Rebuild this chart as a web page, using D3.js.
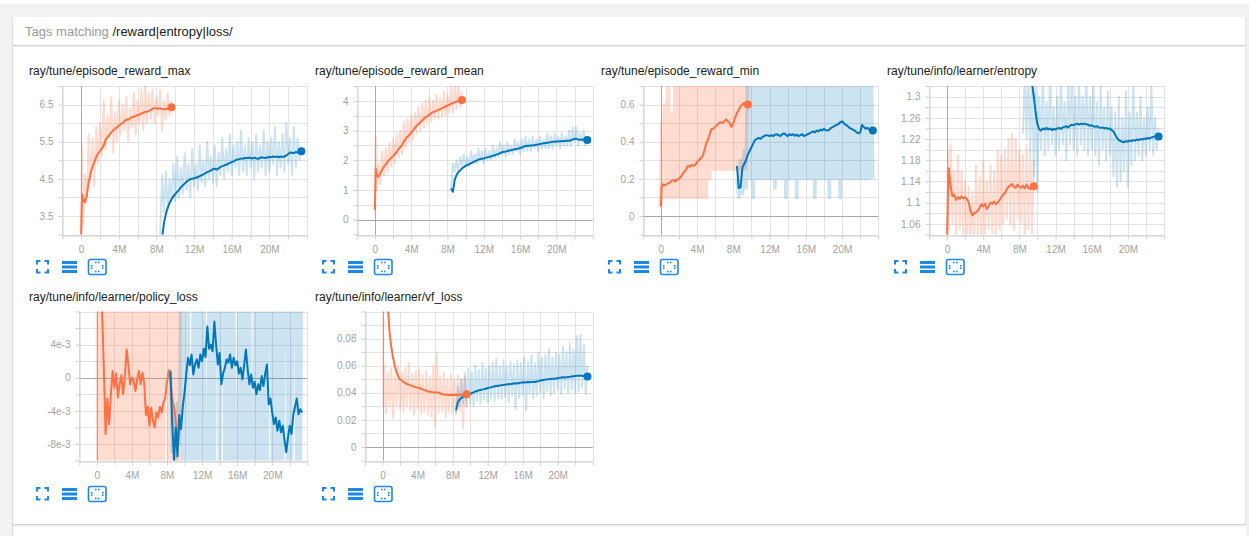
<!DOCTYPE html>
<html>
<head>
<meta charset="utf-8">
<script src="https://cdn.jsdelivr.net/npm/d3@7"></script>
<style>
  html, body { margin: 0; padding: 0; background: #f2f2f2; }
  svg { display: block; font-family: "Liberation Sans", Arial, Helvetica, sans-serif; }
</style>
</head>
<body>
<svg id="board" width="1249" height="536"></svg>
<script>
// ---- training steps (millions of env steps) for the two runs ----
const orangeSteps = [0, 0.1, 0.2, 0.4, 0.6, 0.8,
  1, 1.2, 1.4, 1.6, 1.8,  2, 2.2, 2.4, 2.6, 2.8,  3, 3.2, 3.4, 3.6, 3.8,
  4, 4.2, 4.4, 4.6, 4.8,  5, 5.2, 5.4, 5.6, 5.8,  6, 6.2, 6.4, 6.6, 6.8,
  7, 7.2, 7.4, 7.6, 7.8,  8, 8.2, 8.4, 8.6, 8.8,  9, 9.2, 9.4, 9.6];
const blueSteps = [8.4, 8.6, 8.8,
  9, 9.2, 9.4, 9.6, 9.8,  10, 10.2, 10.4, 10.6, 10.8,  11, 11.2, 11.4, 11.6, 11.8,
  12, 12.2, 12.4, 12.6, 12.8,  13, 13.2, 13.4, 13.6, 13.8,  14, 14.2, 14.4, 14.6, 14.8,
  15, 15.2, 15.4, 15.6, 15.8,  16, 16.2, 16.4, 16.6, 16.8,  17, 17.2, 17.4, 17.6, 17.8,
  18, 18.2, 18.4, 18.6, 18.8,  19, 19.2, 19.4, 19.6, 19.8,  20, 20.2, 20.4, 20.6, 20.8,
  21, 21.2, 21.4, 21.6, 21.8,  22, 22.2, 22.4, 22.6, 22.8,  23, 23.2, 23.4];

// ---- ray/tune/episode_reward_max ----
const maxOrangeRaw = [3.0, 5.4, 3.2, 4.6, 3.9, 5.7,
  4.4, 5.6, 4.3, 5.9, 4.9,  6.0, 5.1, 6.6, 5.3, 6.2,  5.6, 6.7, 5.2, 6.3, 5.5,
  6.6, 5.7, 6.5, 5.8, 6.7,  5.5, 6.4, 5.9, 6.8, 5.7,  6.6, 6.0, 6.9, 5.8, 7.1,
  6.0, 6.8, 6.1, 6.9, 6.0,  6.7, 6.2, 6.9, 5.8, 6.6,  6.1, 6.8, 6.2, 6.6];
const maxOrangeSmooth = [3.0, 4.08, 3.95, 3.86, 4.05, 4.4,
  4.65, 4.82, 4.95, 5.08, 5.18,  5.25, 5.32, 5.4, 5.55, 5.62,  5.68, 5.75, 5.8, 5.85, 5.88,
  5.93, 5.97, 6.0, 6.05, 6.1,  6.09, 6.13, 6.16, 6.17, 6.2,  6.21, 6.23, 6.26, 6.28, 6.3,
  6.31, 6.33, 6.35, 6.39, 6.4,  6.4, 6.39, 6.4, 6.38, 6.37,  6.39, 6.38, 6.42, 6.43];
const maxBlueRaw = [2.9, 4.6, 3.6,
  4.7, 3.7, 4.5, 3.9, 4.9,  3.9, 5.1, 4.0, 4.8, 4.1,  5.2, 4.2, 4.9, 4.0, 5.3,
  4.3, 4.9, 4.2, 5.4, 4.4,  5.0, 4.3, 5.5, 4.5, 5.1,  4.4, 5.4, 4.3, 5.2, 4.6,
  5.6, 4.5, 5.3, 4.7, 5.7,  4.6, 5.4, 4.8, 5.5, 4.6,  5.8, 4.7, 5.4, 4.6, 5.6,
  4.8, 5.5, 4.5, 5.7, 4.7,  5.4, 4.8, 5.8, 4.6, 5.5,  4.7, 5.6, 4.9, 5.9, 4.6,
  5.5, 4.8, 5.7, 4.7, 6.0,  4.9, 5.6, 4.6, 5.9, 4.8,  5.6, 5.0, 5.3];
const maxBlueSmooth = [2.3, 2.9, 3.3,
  3.55, 3.72, 3.85, 3.95, 4.03,  4.09, 4.15, 4.2, 4.27, 4.32,  4.37, 4.42, 4.46, 4.49, 4.5,
  4.52, 4.53, 4.55, 4.57, 4.6,  4.62, 4.65, 4.68, 4.7, 4.73,  4.76, 4.77, 4.75, 4.78, 4.82,
  4.84, 4.86, 4.88, 4.9, 4.93,  4.95, 4.97, 5.0, 5.02, 5.03,  5.05, 5.04, 5.06, 5.06, 5.07,
  5.06, 5.05, 5.07, 5.05, 5.04,  5.06, 5.08, 5.07, 5.06, 5.08,  5.09, 5.08, 5.1, 5.09, 5.1,
  5.08, 5.1, 5.09, 5.1, 5.13,  5.17, 5.21, 5.2, 5.19, 5.22,  5.21, 5.23, 5.24];

// ---- ray/tune/episode_reward_mean ----
const meanOrangeRaw = [0.3, 2.8, 1.0, 1.9, 1.2, 2.3,
  1.5, 2.4, 1.6, 2.6, 1.8,  2.7, 1.9, 2.9, 2.1, 3.0,  2.2, 3.3, 2.4, 3.4, 2.6,
  3.5, 2.7, 3.6, 2.9, 3.8,  3.0, 3.9, 3.1, 4.0, 3.2,  4.1, 3.3, 4.0, 3.4, 4.2,
  3.4, 4.1, 3.5, 4.3, 3.5,  4.2, 3.6, 4.5, 3.6, 4.6,  3.7, 4.6, 3.8, 4.3];
const meanOrangeSmooth = [0.33, 1.72, 1.5, 1.44, 1.55, 1.68,
  1.78, 1.86, 1.95, 2.02, 2.08,  2.14, 2.2, 2.28, 2.38, 2.44,  2.52, 2.62, 2.72, 2.8, 2.85,
  2.93, 3.0, 3.08, 3.16, 3.22,  3.28, 3.33, 3.4, 3.46, 3.48,  3.53, 3.58, 3.62, 3.64, 3.67,
  3.7, 3.72, 3.75, 3.78, 3.81,  3.84, 3.87, 3.9, 3.92, 3.95,  3.98, 4.0, 4.02, 4.03];
const meanBlueRaw = [1.0, 1.9, 1.6,
  2.0, 1.6, 2.1, 1.8, 2.2,  1.8, 2.1, 1.8, 2.3, 1.9,  2.2, 1.9, 2.4, 2.0, 2.3,
  1.9, 2.4, 2.0, 2.3, 2.0,  2.5, 2.1, 2.4, 2.1, 2.6,  2.2, 2.5, 2.1, 2.6, 2.2,
  2.5, 2.2, 2.7, 2.3, 2.6,  2.2, 2.7, 2.3, 2.8, 2.3,  2.7, 2.3, 2.8, 2.4, 2.7,
  2.3, 2.8, 2.4, 2.7, 2.4,  2.9, 2.4, 2.8, 2.4, 2.9,  2.5, 2.8, 2.4, 2.9, 2.5,
  2.8, 2.5, 3.0, 2.5, 3.1,  2.6, 3.1, 2.5, 2.9, 2.6,  3.0, 2.5, 2.8];
const meanBlueSmooth = [1.05, 0.94, 1.35,
  1.5, 1.6, 1.66, 1.72, 1.77,  1.81, 1.84, 1.87, 1.9, 1.93,  1.96, 1.99, 2.02, 2.04, 2.05,
  2.06, 2.08, 2.1, 2.11, 2.13,  2.15, 2.17, 2.19, 2.21, 2.24,  2.27, 2.28, 2.29, 2.31, 2.33,
  2.34, 2.35, 2.37, 2.38, 2.39,  2.41, 2.43, 2.46, 2.48, 2.49,  2.49, 2.5, 2.5, 2.51, 2.52,
  2.53, 2.55, 2.56, 2.57, 2.58,  2.59, 2.6, 2.61, 2.62, 2.62,  2.63, 2.63, 2.64, 2.64, 2.65,
  2.65, 2.66, 2.66, 2.67, 2.7,  2.72, 2.72, 2.7, 2.69, 2.7,  2.69, 2.68, 2.68];

// ---- ray/tune/episode_reward_min ----
const minOrangeRaw = [0.05, 0.5, 0.1, 0.6, 0.1, 0.9,
  0.1, 0.55, 0.1, 0.9, 0.1,  0.9, 0.1, 0.9, 0.1, 0.9,  0.1, 0.9, 0.1, 0.9, 0.1,
  0.9, 0.1, 0.9, 0.1, 0.9,  0.1, 0.9, 0.2, 0.9, 0.25,  0.9, 0.25, 0.9, 0.25, 0.9,
  0.25, 0.9, 0.25, 0.9, 0.25,  0.9, 0.25, 0.9, 0.25, 0.9,  0.25, 0.9, 0.25, 0.9];
const minOrangeSmooth = [0.05, 0.166, 0.17, 0.165, 0.17, 0.175,
  0.18, 0.19, 0.193, 0.185, 0.195,  0.2, 0.21, 0.225, 0.24, 0.25,  0.27, 0.265, 0.275, 0.27, 0.275,
  0.29, 0.3, 0.31, 0.32, 0.35,  0.39, 0.41, 0.44, 0.47, 0.47,  0.48, 0.49, 0.5, 0.505, 0.5,
  0.51, 0.52, 0.51, 0.5, 0.48,  0.5, 0.53, 0.555, 0.57, 0.59,  0.6, 0.61, 0.6, 0.6];
const minBlueRaw = [0.2, 0.1, 0.3,
  0.12, 0.35, 0.15, 0.9, 0.2,  0.9, 0.1, 0.9, 0.2, 0.9,  0.2, 0.9, 0.2, 0.9, 0.2,
  0.9, 0.2, 0.9, 0.15, 0.9,  0.2, 0.9, 0.2, 0.9, 0.1,  0.9, 0.2, 0.9, 0.2, 0.9,
  0.1, 0.9, 0.2, 0.9, 0.2,  0.9, 0.2, 0.9, 0.2, 0.9,  0.1, 0.9, 0.2, 0.9, 0.2,
  0.9, 0.2, 0.9, 0.1, 0.9,  0.2, 0.9, 0.2, 0.9, 0.1,  0.9, 0.2, 0.9, 0.2, 0.9,
  0.2, 0.9, 0.2, 0.9, 0.2,  0.9, 0.2, 0.9, 0.2, 0.9,  0.2, 0.9, 0.2];
const minBlueSmooth = [0.27, 0.15, 0.155,
  0.26, 0.28, 0.3, 0.33, 0.35,  0.37, 0.39, 0.41, 0.415, 0.42,  0.415, 0.425, 0.43, 0.435, 0.434,
  0.43, 0.435, 0.43, 0.438, 0.44,  0.435, 0.43, 0.44, 0.445, 0.438,  0.43, 0.44, 0.435, 0.44, 0.432,
  0.438, 0.43, 0.435, 0.44, 0.43,  0.435, 0.44, 0.445, 0.45, 0.455,  0.45, 0.46, 0.455, 0.465, 0.46,
  0.47, 0.462, 0.46, 0.465, 0.475,  0.48, 0.485, 0.49, 0.495, 0.505,  0.51, 0.5, 0.49, 0.485, 0.475,
  0.47, 0.465, 0.46, 0.45, 0.445,  0.45, 0.49, 0.48, 0.47, 0.475,  0.465, 0.462, 0.46];

// ---- ray/tune/info/learner/entropy ----
const entOrangeRaw = [1.0, 1.2, 1.05, 1.21, 1.06, 1.16,
  1.03, 1.19, 1.05, 1.16, 1.04,  1.14, 1.03, 1.13, 1.02, 1.12,  1.03, 1.17, 1.04, 1.15, 1.03,
  1.18, 1.04, 1.14, 1.05, 1.17,  1.04, 1.16, 1.03, 1.2, 1.05,  1.19, 1.06, 1.2, 1.07, 1.22,
  1.06, 1.23, 1.05, 1.22, 1.07,  1.2, 1.06, 1.19, 1.03, 1.21,  1.05, 1.2, 1.04, 1.18];
const entOrangeSmooth = [1.03, 1.12, 1.165, 1.13, 1.112, 1.115,
  1.105, 1.11, 1.107, 1.112, 1.108,  1.11, 1.107, 1.1, 1.085, 1.076,  1.08, 1.082, 1.085, 1.09, 1.097,
  1.093, 1.098, 1.088, 1.093, 1.1,  1.098, 1.102, 1.097, 1.1, 1.105,  1.11, 1.115, 1.118, 1.125, 1.13,
  1.133, 1.135, 1.13, 1.128, 1.134,  1.13, 1.128, 1.132, 1.127, 1.134,  1.128, 1.126, 1.13, 1.131];
const entBlueRaw = [1.23, 1.35, 1.22,
  1.35, 1.2, 1.34, 1.15, 1.33,  1.12, 1.3, 1.2, 1.34, 1.19,  1.29, 1.2, 1.35, 1.21, 1.28,
  1.19, 1.3, 1.2, 1.34, 1.21,  1.29, 1.18, 1.33, 1.21, 1.35,  1.2, 1.3, 1.19, 1.34, 1.21,
  1.3, 1.2, 1.35, 1.19, 1.3,  1.2, 1.33, 1.19, 1.29, 1.17,  1.32, 1.2, 1.28, 1.18, 1.31,
  1.19, 1.28, 1.15, 1.27, 1.13,  1.3, 1.14, 1.26, 1.16, 1.31,  1.13, 1.27, 1.17, 1.33, 1.18,
  1.27, 1.19, 1.3, 1.18, 1.26,  1.19, 1.28, 1.2, 1.32, 1.19,  1.26, 1.2, 1.24];
const entBlueSmooth = [1.5, 1.46, 1.42,
  1.39, 1.36, 1.325, 1.3, 1.27,  1.248, 1.238, 1.236, 1.24, 1.238,  1.241, 1.238, 1.24, 1.237, 1.239,
  1.238, 1.24, 1.241, 1.239, 1.242,  1.243, 1.244, 1.242, 1.245, 1.247,  1.246, 1.248, 1.249, 1.247, 1.249,
  1.248, 1.249, 1.248, 1.247, 1.245,  1.246, 1.244, 1.243, 1.244, 1.242,  1.241, 1.242, 1.24, 1.241, 1.239,
  1.24, 1.237, 1.235, 1.228, 1.222,  1.218, 1.216, 1.215, 1.214, 1.216,  1.215, 1.217, 1.216, 1.218, 1.217,
  1.219, 1.218, 1.22, 1.219, 1.221,  1.22, 1.222, 1.221, 1.223, 1.224,  1.225, 1.225, 1.225];

// ---- ray/tune/info/learner/policy_loss ----
const polOrangeRaw = [0.03, -0.02, 0.021, -0.019, 0.02, -0.022,
  0.019, -0.02, 0.022, -0.018, 0.02,  -0.021, 0.018, -0.02, 0.023, -0.019,  0.02, -0.022, 0.019, -0.02, 0.021,
  -0.018, 0.02, -0.021, 0.022, -0.02,  0.019, -0.02, 0.021, -0.019, 0.02,  -0.022, 0.018, -0.02, 0.021, -0.019,
  0.02, -0.021, 0.019, -0.02, 0.022,  0.02, -0.019, 0.021, -0.02, 0.018,  -0.021, 0.02, -0.019, 0.02];
const polOrangeSmooth = [0.03, 0.025, 0.02, 0.012, 0.008, 0.001,
  -0.0068, -0.0025, -0.0056, -0.002, 0.0008,  -0.0012, 0.0005, -0.0024, -0.0008, 0.0003,  -0.002, 0.0002, 0.0034, 0.0015, -0.0008,
  0.0, -0.0004, -0.0016, -0.0002, 0.0008,  -0.0008, 0.0006, -0.0006, -0.0045, -0.0035,  -0.0058, -0.0036, -0.0052, -0.006, -0.0042,
  -0.0048, -0.0035, -0.0042, -0.003, -0.0024,  -0.0005, 0.0009, -0.0004, -0.0026, -0.0035,  -0.0052, -0.0076, -0.0064, -0.0058];
const polBlueRaw = [0.001, -0.009, -0.004,
  -0.012, -0.003, -0.008, 0.02, -0.02,  0.021, -0.019, 0.02, -0.021, -0.02,  0.02, -0.019, 0.022, -0.02, 0.019,
  -0.021, 0.02, -0.019, -0.02, 0.021,  -0.02, 0.019, -0.022, 0.02, 0.021,  -0.019, 0.02, 0.022, -0.02, 0.019,
  -0.021, 0.02, -0.019, 0.021, -0.02,  -0.022, 0.02, -0.019, 0.021, -0.02,  0.019, -0.021, 0.02, -0.019, -0.02,
  0.021, -0.02, 0.019, -0.021, 0.02,  -0.019, 0.022, -0.02, 0.02, 0.021,  -0.02, 0.019, -0.021, 0.02, -0.019,
  0.021, -0.02, 0.019, 0.02, -0.021,  0.02, -0.019, 0.021, 0.02, -0.02,  0.019, -0.021, 0.02];
const polBlueSmooth = [0.0008, -0.0055, -0.01,
  -0.006, -0.0095, -0.0045, -0.0062, -0.0035,  -0.0018, 0.0005, 0.0024, 0.0015, 0.0028,  0.0004, 0.0016, 0.0022, 0.0012, 0.0028,
  0.002, 0.0035, 0.0025, 0.0062, 0.0035,  0.004, 0.0032, 0.0068, 0.004, 0.0016,  0.003, -0.0008, 0.0005, 0.0012, 0.0022,
  0.0018, 0.0028, 0.0012, 0.0024, 0.0015,  0.002, 0.0005, 0.0012, -0.0002, 0.0015,  0.0034, 0.001, -0.0008, 0.0004, -0.0012,
  -0.0005, -0.002, -0.0008, -0.0015, 0.0002,  -0.001, 0.0005, 0.0016, -0.0032, -0.0025,  -0.0042, -0.0056, -0.0048, -0.0064, -0.0052,
  -0.0066, -0.0058, -0.0075, -0.009, -0.0072,  -0.0058, -0.0068, -0.0045, -0.0035, -0.0025,  -0.0044, -0.0038, -0.0042];

// ---- ray/tune/info/learner/vf_loss ----
const vfOrangeRaw = [0.35, 0.03, 0.06, 0.025, 0.055, 0.03,
  0.058, 0.021, 0.052, 0.03, 0.06,  0.028, 0.055, 0.026, 0.058, 0.03,  0.062, 0.027, 0.054, 0.024, 0.056,
  0.029, 0.057, 0.025, 0.053, 0.026,  0.056, 0.024, 0.052, 0.022, 0.06,  0.015, 0.07, 0.025, 0.052, 0.027,
  0.055, 0.022, 0.05, 0.026, 0.054,  0.025, 0.05, 0.024, 0.053, 0.027,  0.05, 0.014, 0.052, 0.03];
const vfOrangeSmooth = [0.3, 0.25, 0.2, 0.14, 0.105, 0.085,
  0.074, 0.066, 0.06, 0.055, 0.052,  0.05, 0.049, 0.048, 0.047, 0.0465,  0.046, 0.0455, 0.045, 0.0445, 0.044,
  0.0438, 0.0435, 0.043, 0.0425, 0.042,  0.0415, 0.041, 0.0408, 0.0405, 0.0403,  0.0402, 0.0403, 0.04, 0.0395, 0.039,
  0.0388, 0.0386, 0.0385, 0.0384, 0.0385,  0.0384, 0.0383, 0.0385, 0.0384, 0.0386,  0.0385, 0.0387, 0.039, 0.039];
const vfBlueRaw = [0.025, 0.045, 0.03,
  0.05, 0.032, 0.055, 0.03, 0.058,  0.032, 0.055, 0.03, 0.06, 0.034,  0.057, 0.032, 0.062, 0.035, 0.058,
  0.033, 0.06, 0.036, 0.062, 0.034,  0.065, 0.036, 0.06, 0.035, 0.064,  0.037, 0.06, 0.033, 0.063, 0.038,
  0.061, 0.028, 0.064, 0.036, 0.062,  0.038, 0.066, 0.027, 0.063, 0.039,  0.068, 0.036, 0.062, 0.038, 0.07,
  0.04, 0.066, 0.036, 0.068, 0.041,  0.072, 0.038, 0.066, 0.04, 0.07,  0.042, 0.068, 0.039, 0.074, 0.043,
  0.07, 0.04, 0.076, 0.042, 0.072,  0.04, 0.082, 0.041, 0.083, 0.044,  0.075, 0.039, 0.06];
const vfBlueSmooth = [0.027, 0.033, 0.035,
  0.0362, 0.037, 0.0375, 0.0378, 0.0385,  0.039, 0.0398, 0.0403, 0.041, 0.0413,  0.0418, 0.042, 0.0425, 0.0427, 0.043,
  0.0435, 0.0438, 0.044, 0.0445, 0.0448,  0.0452, 0.045, 0.0455, 0.0456, 0.0458,  0.046, 0.0462, 0.0464, 0.0463, 0.0466,
  0.0468, 0.047, 0.0468, 0.0472, 0.0475,  0.0477, 0.0476, 0.0478, 0.048, 0.0478,  0.048, 0.0482, 0.048, 0.0483, 0.0486,
  0.049, 0.0492, 0.0495, 0.0497, 0.0499,  0.05, 0.0502, 0.0504, 0.0503, 0.0506,  0.0508, 0.051, 0.0512, 0.0514, 0.0513,
  0.0515, 0.0517, 0.0518, 0.052, 0.0522,  0.0524, 0.0526, 0.0525, 0.0527, 0.0526,  0.0523, 0.0522, 0.052];

// ---- axis labels ----
const xTickValues = [0, 4, 8, 12, 16, 20];
const xTickLabels = ["0", "4M", "8M", "12M", "16M", "20M"];
const maxYTicks = [3.5, 4.5, 5.5, 6.5];
const maxYLabels = ["3.5", "4.5", "5.5", "6.5"];
const meanYTicks = [0, 1, 2, 3, 4];
const meanYLabels = ["0", "1", "2", "3", "4"];
const minYTicks = [0, 0.2, 0.4, 0.6];
const minYLabels = ["0", "0.2", "0.4", "0.6"];
const entYTicks = [1.06, 1.1, 1.14, 1.18, 1.22, 1.26, 1.3];
const entYLabels = ["1.06", "1.1", "1.14", "1.18", "1.22", "1.26", "1.3"];
const polYTicks = [0.004, 0, -0.004, -0.008];
const polYLabels = ["4e-3", "0", "-4e-3", "-8e-3"];
const vfYTicks = [0, 0.02, 0.04, 0.06, 0.08];
const vfYLabels = ["0", "0.02", "0.04", "0.06", "0.08"];

const RUN_COLORS = { orange: "#ff7043", blue: "#0077bb" };
const ICON_BLUE = "#1e88e5";

// panel layout
const rows = [
  { top: 86, bottom: 234.5, title: 75, icons: 260 },
  { top: 311.5, bottom: 460.5, title: 300.5, icons: 487 }
];
const panels = [
  { title: "ray/tune/episode_reward_max", tx: 29, row: 0, x0: 62.3, x1: 307, yDomain: [3, 7], yCount: 8,
    yTicks: maxYTicks, yLabels: maxYLabels, dots: true, rawWidth: 2,
    runs: [[orangeSteps, maxOrangeRaw, maxOrangeSmooth, "orange"], [blueSteps, maxBlueRaw, maxBlueSmooth, "blue"]] },
  { title: "ray/tune/episode_reward_mean", tx: 315, row: 0, x0: 356.7, x1: 592.7, yDomain: [-0.5, 4.5], yCount: 10,
    yTicks: meanYTicks, yLabels: meanYLabels, dots: true, rawWidth: 2,
    runs: [[orangeSteps, meanOrangeRaw, meanOrangeSmooth, "orange"], [blueSteps, meanBlueRaw, meanBlueSmooth, "blue"]] },
  { title: "ray/tune/episode_reward_min", tx: 601, row: 0, x0: 642.7, x1: 878.3, yDomain: [-0.1, 0.7], yCount: 8,
    yTicks: minYTicks, yLabels: minYLabels, dots: true, rawWidth: 3.6,
    runs: [[orangeSteps, minOrangeRaw, minOrangeSmooth, "orange"], [blueSteps, minBlueRaw, minBlueSmooth, "blue"]] },
  { title: "ray/tune/info/learner/entropy", tx: 887, row: 0, x0: 929, x1: 1164, yDomain: [1.04, 1.32], yCount: 14,
    yTicks: entYTicks, yLabels: entYLabels, dots: true, rawWidth: 2,
    runs: [[orangeSteps, entOrangeRaw, entOrangeSmooth, "orange"], [blueSteps, entBlueRaw, entBlueSmooth, "blue"]] },
  { title: "ray/tune/info/learner/policy_loss", tx: 29, row: 1, x0: 79.3, x1: 307.3, yDomain: [-0.01, 0.008], yCount: 9,
    yTicks: polYTicks, yLabels: polYLabels, dots: false, rawWidth: 3,
    runs: [[orangeSteps, polOrangeRaw, polOrangeSmooth, "orange"], [blueSteps, polBlueRaw, polBlueSmooth, "blue"]] },
  { title: "ray/tune/info/learner/vf_loss", tx: 315, row: 1, x0: 365, x1: 592.7, yDomain: [-0.01, 0.1], yCount: 11,
    yTicks: vfYTicks, yLabels: vfYLabels, dots: true, rawWidth: 2,
    runs: [[orangeSteps, vfOrangeRaw, vfOrangeSmooth, "orange"], [blueSteps, vfBlueRaw, vfBlueSmooth, "blue"]] }
];

const svg = d3.select("#board");

// ---- page chrome ----
svg.append("rect").attr("x", 0).attr("y", 0).attr("width", 1249).attr("height", 4).attr("fill", "#ffffff");
svg.append("rect").attr("x", 12).attr("y", 17).attr("width", 1234).attr("height", 507).attr("fill", "#ffffff");
svg.append("line").attr("x1", 12.5).attr("x2", 12.5).attr("y1", 17).attr("y2", 536).attr("stroke", "#dcdcdc");
svg.append("line").attr("x1", 1245.5).attr("x2", 1245.5).attr("y1", 17).attr("y2", 524).attr("stroke", "#e4e4e4");
svg.append("line").attr("x1", 12).attr("x2", 1246).attr("y1", 45.5).attr("y2", 45.5).attr("stroke", "#d4d4d4");
svg.append("line").attr("x1", 12).attr("x2", 1246).attr("y1", 46.5).attr("y2", 46.5).attr("stroke", "#ececec");
svg.append("line").attr("x1", 12).attr("x2", 1246).attr("y1", 524.5).attr("y2", 524.5).attr("stroke", "#d4d4d4");
svg.append("rect").attr("x", 13).attr("y", 527).attr("width", 1233).attr("height", 9).attr("fill", "#ffffff");

const header = svg.append("text").attr("x", 25).attr("y", 36).attr("font-size", 13);
header.append("tspan").attr("fill", "#9a9a9a").text("Tags matching ");
header.append("tspan").attr("fill", "#212121").text("/reward|entropy|loss/");

const xGrid = d3.range(-2, 25, 2);

function drawIcons(g, x, y) {
  // fit-to-screen corners
  g.append("path")
    .attr("d", `M${x + 8},${y + 4.5}V${y + 1}H${x + 11.5} M${x + 15.5},${y + 1}H${x + 19}V${y + 4.5} ` +
               `M${x + 19},${y + 9}V${y + 12.5}H${x + 15.5} M${x + 11.5},${y + 12.5}H${x + 8}V${y + 9}`)
    .attr("fill", "none").attr("stroke", ICON_BLUE).attr("stroke-width", 2);
  // data table toggle
  [1, 5.5, 10].forEach(dy => {
    g.append("rect").attr("x", x + 33).attr("y", y + dy).attr("width", 15).attr("height", 3)
      .attr("fill", ICON_BLUE);
  });
  // domain reset
  g.append("rect").attr("x", x + 59.5).attr("y", y - 0.5).attr("width", 17.5).attr("height", 15).attr("rx", 2)
    .attr("fill", "#ffffff").attr("stroke", ICON_BLUE).attr("stroke-width", 1.6);
  const cx = x + 68.25, cy = y + 7;
  [[-1.5, -4.5], [1.5, -4.5], [-1.5, 4.5], [1.5, 4.5], [-5.5, -1.2], [-5.5, 1.2], [5.5, -1.2], [5.5, 1.2]]
    .forEach(([dx, dy]) => {
      g.append("rect").attr("x", cx + dx - 0.8).attr("y", cy + dy - 0.8).attr("width", 1.6).attr("height", 1.6)
        .attr("fill", ICON_BLUE);
    });
}

panels.forEach((p, pi) => {
  const r = rows[p.row];
  const g = svg.append("g");
  const x = d3.scaleLinear().domain([-2, 24]).range([p.x0, p.x1]);
  const y = d3.scaleLinear().domain(p.yDomain).range([r.bottom, r.top]);
  const yGrid = y.ticks(p.yCount);

  g.append("text").attr("x", p.tx).attr("y", r.title).attr("font-size", 12).attr("fill", "#212121").text(p.title);

  // grid
  g.append("g").selectAll("line").data(yGrid).join("line")
    .attr("x1", p.x0).attr("x2", p.x1)
    .attr("y1", d => Math.round(y(d)) + 0.5).attr("y2", d => Math.round(y(d)) + 0.5)
    .attr("stroke", "#e2e2e2");
  g.append("g").selectAll("line").data(xGrid).join("line")
    .attr("x1", d => Math.round(x(d)) + 0.5).attr("x2", d => Math.round(x(d)) + 0.5)
    .attr("y1", r.top).attr("y2", r.bottom)
    .attr("stroke", "#e2e2e2");

  // zero lines
  if (p.yDomain[0] < 0 && p.yDomain[1] > 0) {
    g.append("line").attr("x1", p.x0).attr("x2", p.x1)
      .attr("y1", Math.round(y(0)) + 0.5).attr("y2", Math.round(y(0)) + 0.5)
      .attr("stroke", "#a8a8a8");
  }
  g.append("line").attr("x1", Math.round(x(0)) + 0.5).attr("x2", Math.round(x(0)) + 0.5)
    .attr("y1", r.top).attr("y2", r.bottom).attr("stroke", "#a8a8a8");

  // axes
  const labelFor = (vals, labels) => v => {
    const i = vals.findIndex(t => Math.abs(t - v) < 1e-9);
    return i >= 0 ? labels[i] : "";
  };
  const xAxis = g.append("g").attr("transform", `translate(0,${Math.round(r.bottom) + 0.5})`)
    .call(d3.axisBottom(x).tickValues(xGrid).tickSize(4).tickSizeOuter(0).tickPadding(6)
      .tickFormat(labelFor(xTickValues, xTickLabels)));
  const yAxis = g.append("g").attr("transform", `translate(${Math.round(p.x0) + 0.5},0)`)
    .call(d3.axisLeft(y).tickValues(yGrid).tickSize(4).tickSizeOuter(0).tickPadding(5)
      .tickFormat(labelFor(p.yTicks, p.yLabels)));
  [xAxis, yAxis].forEach(a => {
    a.select(".domain").attr("stroke", "#cfcfcf");
    a.selectAll(".tick line").attr("stroke", "#cfcfcf");
    a.selectAll(".tick text").attr("fill", "#a3a3a3").attr("font-size", 10)
      .attr("font-family", "\"Liberation Sans\", Arial, sans-serif");
  });

  // data
  const clipId = "clip" + pi;
  svg.append("clipPath").attr("id", clipId).append("rect")
    .attr("x", p.x0).attr("y", r.top).attr("width", p.x1 - p.x0).attr("height", r.bottom - r.top);
  const plot = g.append("g").attr("clip-path", `url(#${clipId})`);

  // raw values, faint
  p.runs.forEach(([steps, raw, smooth, key]) => {
    const line = d3.line().x((d, i) => x(steps[i])).y(d => y(d));
    plot.append("path").datum(raw).attr("d", line)
      .attr("fill", "none").attr("stroke", RUN_COLORS[key])
      .attr("stroke-opacity", key === "orange" ? 0.25 : 0.2).attr("stroke-width", p.rawWidth)
      .attr("stroke-linejoin", "round");
  });
  // smoothed values
  p.runs.forEach(([steps, raw, smooth, key]) => {
    const line = d3.line().x((d, i) => x(steps[i])).y(d => y(d));
    plot.append("path").datum(smooth).attr("d", line)
      .attr("fill", "none").attr("stroke", RUN_COLORS[key]).attr("stroke-width", 2)
      .attr("stroke-linejoin", "round");
  });
  if (p.dots) {
    p.runs.forEach(([steps, raw, smooth, key]) => {
      const last = smooth.length - 1;
      plot.append("circle").attr("cx", x(steps[last])).attr("cy", y(smooth[last])).attr("r", 4)
        .attr("fill", RUN_COLORS[key]);
    });
  }

  drawIcons(g, p.tx, r.icons);
});
</script>
</body>
</html>
